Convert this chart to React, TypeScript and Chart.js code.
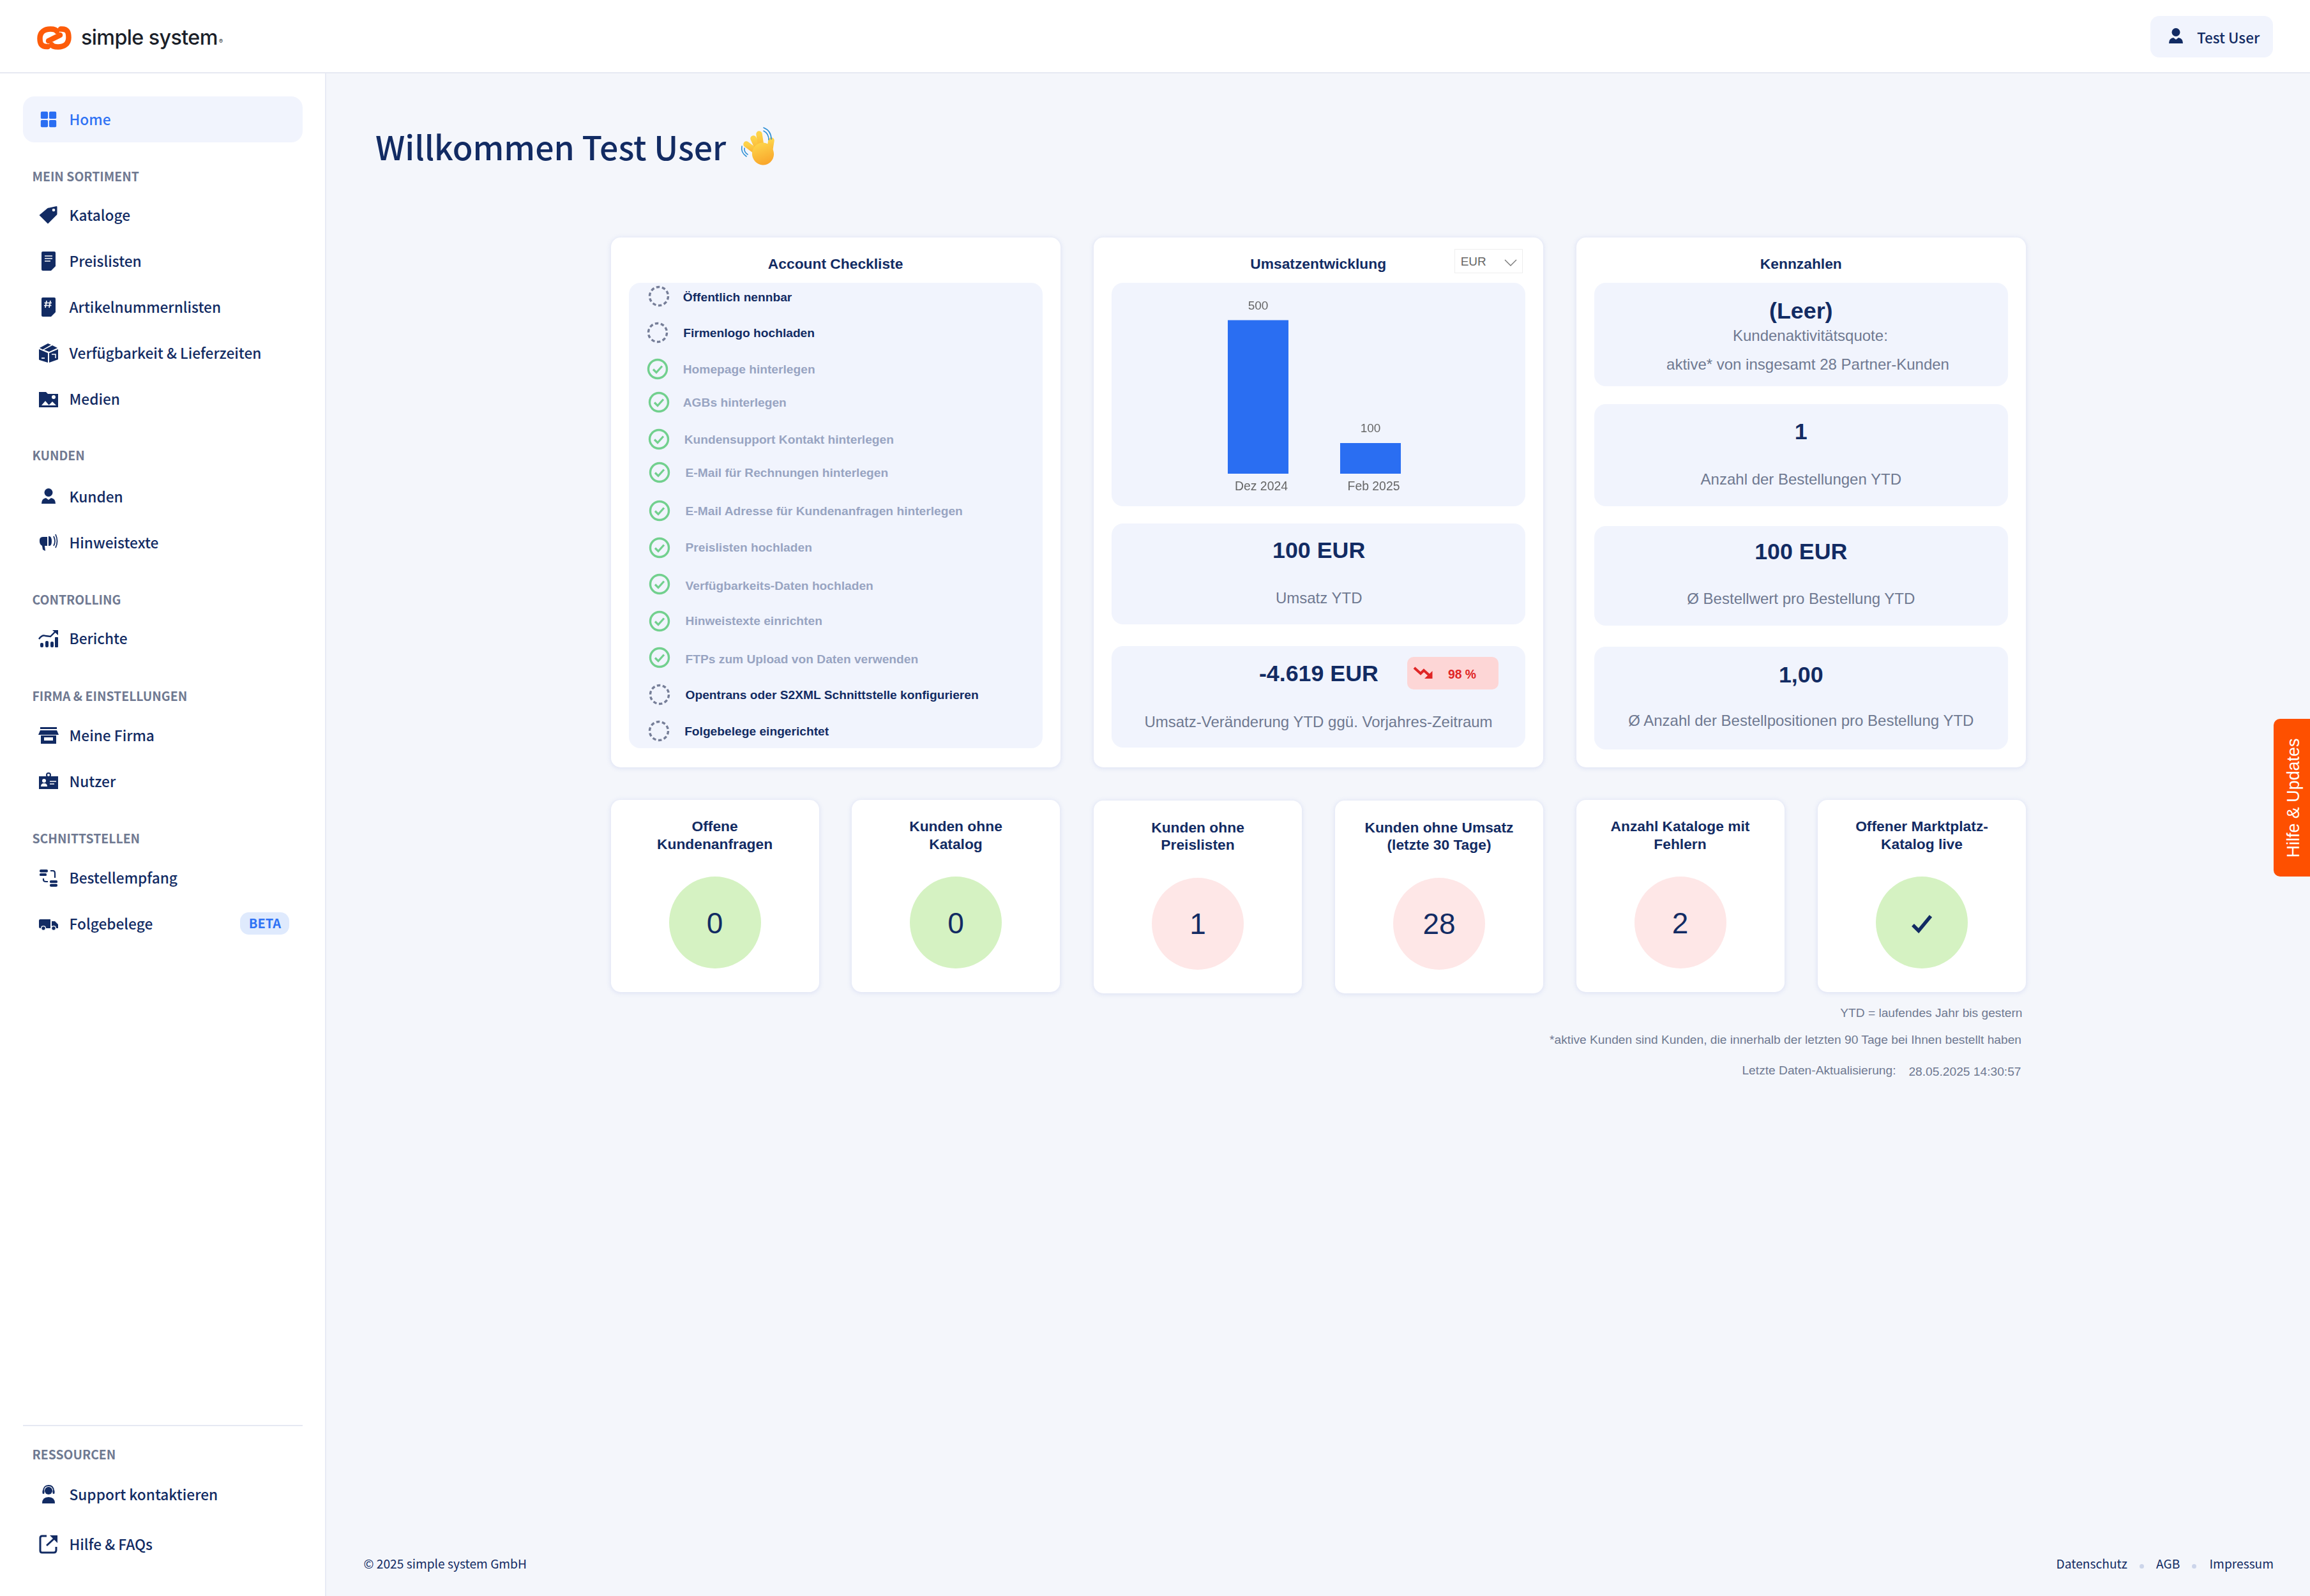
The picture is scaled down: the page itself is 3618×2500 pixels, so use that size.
import React, { useEffect, useRef } from "react";
import { Chart, registerables } from "chart.js";

Chart.register(...registerables);

// ---------- data ----------
const months = ["Dez 2024", "Feb 2025"];
const revenue = [500, 100];
const checklistLabels = [
  "Öffentlich nennbar", "Firmenlogo hochladen", "Homepage hinterlegen", "AGBs hinterlegen",
  "Kundensupport Kontakt hinterlegen", "E-Mail für Rechnungen hinterlegen",
  "E-Mail Adresse für Kundenanfragen hinterlegen", "Preislisten hochladen",
  "Verfügbarkeits-Daten hochladen", "Hinweistexte einrichten", "FTPs zum Upload von Daten verwenden",
  "Opentrans oder S2XML Schnittstelle konfigurieren", "Folgebelege eingerichtet",
];
const checklistDone = [false, false, true, true, true, true, true, true, true, true, true, false, false];
const tileTitles = [
  ["Offene", "Kundenanfragen"], ["Kunden ohne", "Katalog"], ["Kunden ohne", "Preislisten"],
  ["Kunden ohne Umsatz", "(letzte 30 Tage)"], ["Anzahl Kataloge mit", "Fehlern"], ["Offener Marktplatz-", "Katalog live"],
];
const tileValues = ["0", "0", "1", "28", "2", ""];
const tileOk = [true, true, false, false, false, true];
const kpiValues = ["(Leer)", "1", "100 EUR", "1,00"];
const kpiLabels = ["Anzahl der Bestellungen YTD", "Ø Bestellwert pro Bestellung YTD", "Ø Anzahl der Bestellpositionen pro Bestellung YTD"];

// ---------- layout ----------
const W = 3618, H = 2500;
const HAN = '"Noto Sans CJK SC", "Noto Sans", sans-serif';
const ARIAL = '"Liberation Sans", Arial, sans-serif';
const NAVY = "#122b63", GREY = "#6f7991", PANEL = "#f1f4fd", MUTED = "#98a4c2";
const zx = (z: number) => z / 2.119 + 940;
const zy = (z: number) => z / 1.823 + 360;
const checkIconX = [195, 191, 191, 195, 195, 198, 198, 198, 198, 198, 198, 198, 195];
const checkIconY = [190, 293, 398, 493, 598, 693, 802, 907, 1012, 1117, 1222, 1327, 1431];
const checkTextX = [275, 276, 275, 275, 279, 283, 283, 283, 283, 283, 283, 283, 280];
const checkTextY = [193, 295, 399, 494, 600, 695, 804, 908, 1017, 1117, 1227, 1329, 1433];
const tileBox = [
  [956.6, 1252.5], [1334, 1252.5], [1713, 1254], [2091, 1254], [2468.5, 1252.5], [2847, 1252.5],
];

type TP = { x: number; y: number; s: number; w?: number; c?: string; a?: "left" | "center" | "right"; f?: string; ls?: number; children: any };
const T = ({ x, y, s, w = 400, c = NAVY, a = "left", f = ARIAL, ls, children }: TP) => (
  <div style={{
    position: "absolute", left: a === "right" ? undefined : x, right: a === "right" ? W - x : undefined, top: y,
    transform: a === "center" ? "translate(-50%,-50%)" : "translateY(-50%)",
    fontSize: s, fontWeight: w, color: c, fontFamily: f, whiteSpace: "nowrap", lineHeight: 1, letterSpacing: ls,
  }}>{children}</div>
);
const Box = ({ x, y, r, b, bg = PANEL, rad = 18, shadow, border }: any) => (
  <div style={{ position: "absolute", left: x, top: y, width: r - x, height: b - y, background: bg, borderRadius: rad, boxShadow: shadow, border, boxSizing: "border-box" }} />
);
const Card = (p: any) => <Box {...p} bg="#fff" rad={15} shadow="0 1px 7px 1px rgba(110,130,210,0.16)" />;

const Ico = ({ cx, cy, d, size = 32, c = NAVY, children }: any) => (
  <svg width={size} height={size} viewBox="0 0 32 32" style={{ position: "absolute", left: cx - size / 2, top: cy - size / 2 }}>
    {d && <path d={d} fill={c} fillRule="evenodd" />}
    {children}
  </svg>
);

const icons: Record<string, any> = {
  home: <><rect x="3" y="3" width="12" height="12" rx="2" fill="#2a6ef2" /><rect x="17" y="3" width="12" height="12" rx="2" fill="#2a6ef2" /><rect x="3" y="17" width="12" height="12" rx="2" fill="#2a6ef2" /><rect x="17" y="17" width="12" height="12" rx="2" fill="#2a6ef2" /></>,
  tag: <><path d="M1.5 16 L14 5.5 Q15 4.5 17 4.5 L28.5 2 Q29.5 2 29.5 3 V14 Q29.5 15.5 28 16.5 L15 29.5 Z" fill={NAVY} /><circle cx="24" cy="8" r="2.3" fill="#fff" /></>,
  doc: <><path d="M7 1 H25 Q27 1 27 3 V24 L20 31 H7 Q5 31 5 29 V3 Q5 1 7 1Z" fill={NAVY} /><path d="M10 8H22M10 12H22M10 16H19" stroke="#fff" strokeWidth="1.6" /><path d="M21 31 L27 25 V31Z" fill="#fff" /></>,
  hash: <><path d="M7 1 H25 Q27 1 27 3 V24 L20 31 H7 Q5 31 5 29 V3 Q5 1 7 1Z" fill={NAVY} /><path d="M13 6 L11 17 M19 6 L17 17 M9.5 9.5H21 M9 13.5H20.5" stroke="#fff" strokeWidth="1.7" /><path d="M21 31 L27 25 V31Z" fill="#fff" /></>,
  box: <><path d="M1 10 L15 16 V31 L2 27 Q1 26.5 1 25.5Z M17 16 L31 10 V26 L17 31Z M2 8 L15 1 L20 3 L7 10.5Z M9 11 L22 4 L30 8 L17 14Z" fill={NAVY} /><path d="M5 24 H10" stroke="#fff" strokeWidth="1.7" /><path d="M21 18 H27 V24" stroke="#fff" strokeWidth="1.5" fill="none" /></>,
  image: <><path d="M1 5 H12 L15 8 H31 V29 H1Z" fill={NAVY} /><circle cx="24" cy="13" r="3" fill="#fff" /><path d="M5 26 L11 19 L17 26Z M16 26 L22 20 L28 26Z" fill="#fff" /></>,
  person: <><circle cx="16" cy="9.5" r="6.5" fill={NAVY} /><path d="M5 27 Q5 19 12 18 L16 21 L20 18 Q27 19 27 27Z" fill={NAVY} /></>,
  megaphone: <><path d="M2 12 Q2 7 8 7 H14 V21 H10 L11 29 L7 27 L6 21 Q2 19 2 14Z M16 6 Q21 5 21 14 Q21 22 16 21Z" fill={NAVY} /><path d="M24 6 Q28 14 24 21 M27 3 Q32 14 27 24" stroke={NAVY} strokeWidth="1.7" fill="none" /></>,
  chart: <><path d="M1 17 Q6 10 11 12 L19 13 L27 5" stroke={NAVY} strokeWidth="2.4" fill="none" /><path d="M22 3 H31 V11Z" fill={NAVY} /><rect x="3" y="23" width="5" height="7" rx="2" fill={NAVY} /><rect x="11" y="20" width="5" height="10" rx="2" fill={NAVY} /><rect x="19" y="21" width="5" height="9" rx="2" fill={NAVY} /><rect x="26" y="14" width="5" height="16" rx="1" fill={NAVY} /></>,
  store: <><rect x="3" y="3" width="26" height="3" fill={NAVY} /><path d="M3 8 H29 L32 15 H0Z" fill={NAVY} /><path d="M4 16 H28 V29 H4Z" fill={NAVY} /><rect x="9" y="19" width="14" height="5" fill="#fff" /></>,
  idcard: <><path d="M1 8 H31 V28 H1Z" fill={NAVY} /><circle cx="16" cy="6" r="3" fill="#fff" stroke={NAVY} strokeWidth="2" /><circle cx="9" cy="15" r="3" fill="#fff" /><path d="M4 24 Q4 19 9 19 Q14 19 14 24Z" fill="#fff" /><path d="M18 16 H28 M18 20 H25" stroke="#fff" strokeWidth="1.7" /></>,
  transfer: <><rect x="2" y="3" width="13" height="4.5" rx="2" fill={NAVY} /><rect x="2" y="9" width="11" height="4" rx="1.5" fill={NAVY} /><rect x="18" y="20" width="12" height="4" rx="1.5" fill={NAVY} /><rect x="18" y="25.5" width="12" height="4.5" rx="2" fill={NAVY} /><path d="M19 5 H23 Q26 5 26 9 V16 M8 17 V19 Q8 22 12 22 H15" stroke={NAVY} strokeWidth="2.2" fill="none" /></>,
  truck: <><path d="M1 11 Q1 9 3 9 H19 V23 H3 Q1 23 1 21Z M21 12 H26 L31 17 V23 H21Z" fill={NAVY} /><circle cx="8" cy="23" r="3.4" fill={NAVY} stroke="#fff" strokeWidth="1.3" /><circle cx="24" cy="23" r="3.4" fill={NAVY} stroke="#fff" strokeWidth="1.3" /></>,
  support: <><circle cx="16" cy="10" r="6" fill={NAVY} /><path d="M8 11 Q8 2 16 2 Q24 2 24 11" stroke={NAVY} strokeWidth="1.8" fill="none" /><rect x="6.5" y="9" width="3" height="6" rx="1.5" fill={NAVY} /><rect x="22.5" y="9" width="3" height="6" rx="1.5" fill={NAVY} /><path d="M6 30 Q6 20 16 20 Q26 20 26 30Z" fill={NAVY} /></>,
  external: <><path d="M13 3 H6 Q3 3 3 6 V26 Q3 29 6 29 H24 Q28 29 28 25 V20" stroke={NAVY} strokeWidth="3" fill="none" /><path d="M13 18 L26 6" stroke={NAVY} strokeWidth="3" /><path d="M18 2 H30 V14Z" fill={NAVY} /></>,
};

const navLabels: [string, number, string][] = [
  ["Kataloge", 337, "tag"], ["Preislisten", 408.5, "doc"], ["Artikelnummernlisten", 480.5, "hash"],
  ["Verfügbarkeit & Lieferzeiten", 552.5, "box"], ["Medien", 624.5, "image"], ["Kunden", 777.5, "person"],
  ["Hinweistexte", 849.5, "megaphone"], ["Berichte", 999.5, "chart"], ["Meine Firma", 1151.5, "store"],
  ["Nutzer", 1223.5, "idcard"], ["Bestellempfang", 1374.5, "transfer"], ["Folgebelege", 1446.5, "truck"],
  ["Support kontaktieren", 2340.5, "support"], ["Hilfe & FAQs", 2419, "external"],
];
const navSections: [string, number][] = [
  ["MEIN SORTIMENT", 276], ["KUNDEN", 713], ["CONTROLLING", 939], ["FIRMA & EINSTELLUNGEN", 1089.5], ["SCHNITTSTELLEN", 1313], ["RESSOURCEN", 2278],
];

const valueLabels = {
  id: "valueLabels",
  afterDatasetsDraw(chart: any) {
    const { ctx } = chart;
    ctx.save();
    ctx.font = `19px ${ARIAL}`;
    ctx.fillStyle = "#666";
    ctx.textAlign = "center";
    ctx.textBaseline = "middle";
    chart.getDatasetMeta(0).data.forEach((bar: any, i: number) => {
      ctx.fillText(String(chart.data.datasets[0].data[i]), bar.x, bar.y - 22);
    });
    ctx.restore();
  },
};

const RevenueChart = () => {
  const ref = useRef<HTMLCanvasElement>(null);
  useEffect(() => {
    const chart = new Chart(ref.current!, {
      type: "bar",
      data: { labels: months, datasets: [{ data: revenue, backgroundColor: "#2a6ef2", barPercentage: 0.9, categoryPercentage: 0.6 }] },
      options: {
        animation: false, responsive: false, devicePixelRatio: 1,
        layout: { padding: { left: 141.5, right: 154.5, top: 10.4, bottom: 9.7 } },
        plugins: { legend: { display: false }, tooltip: { enabled: false }, title: { display: false } },
        scales: {
          y: { display: false, min: 0, max: 600 },
          x: {
            grid: { display: false, drawTicks: false }, border: { display: false },
            ticks: { color: "#666", font: { size: 19.4, family: ARIAL }, padding: 9, labelOffset: 5, maxRotation: 0, autoSkip: false },
          },
        },
      },
      plugins: [valueLabels],
    } as any);
    return () => chart.destroy();
  }, []);
  return <canvas ref={ref} width={648} height={350} style={{ position: "absolute", left: 1741, top: 443, width: 648, height: 350 }} />;
};

const Check = ({ cx, cy, done }: any) => (
  <svg width={36} height={36} viewBox="0 0 36 36" style={{ position: "absolute", left: cx - 18, top: cy - 18 }}>
    {done ? (
      <>
        <circle cx="18" cy="18" r="14.5" fill="none" stroke="#72d08e" strokeWidth="3.4" />
        <path d="M11 18.5 L16 23.5 L25 13.5" fill="none" stroke="#72d08e" strokeWidth="3.2" />
      </>
    ) : (
      <circle cx="18" cy="18" r="14.5" fill="none" stroke="#767e98" strokeWidth="3.4" strokeDasharray="5.5 3.6" />
    )}
  </svg>
);

export default function App() {
  const kpiBoxes = [[443, 604.6], [632.6, 793], [823.5, 980.4], [1013, 1173.5]];
  const kpiValueY = [488, 677, 865, 1058];
  const kpiLabelY = [750.6, 937.6, 1129];
  return (
    <div style={{ position: "absolute", left: 0, top: 0, width: W, height: H, overflow: "hidden", background: "#f4f6fb" }}>
      {/* header */}
      <div style={{ position: "absolute", left: 0, top: 0, width: W, height: 115, background: "#fff", borderBottom: "2px solid #e6e9f2", boxSizing: "border-box" }} />
      <svg width={60} height={44} viewBox="55 37 60 44" style={{ position: "absolute", left: 55, top: 37 }}>
        <g fill="none" stroke="#fd5c0a" strokeWidth="8.5" strokeLinecap="round">
          <path d="M75 73 C64 74 62.5 67 62.5 60 C62.5 50 70 45.5 79 45.5 C85 45.5 88 47 89 49" />
          <path d="M95 45.5 C106 44.5 107.5 51 107.5 59 C107.5 69 100 73.5 91 73.5 C85 73.5 82 72 81 70" />
          <path d="M76 64 L94 55" />
        </g>
      </svg>
      <T x={127} y={58.5} s={32.3} w={500} c="#1b1f29" f="Inter, sans-serif" ls={-0.6}>simple system</T>
      <T x={343} y={64} s={9} c="#1b1f29" f="Inter, sans-serif">®</T>
      <Box x={3368} y={25} r={3560} b={90} rad={14} />
      <Ico cx={3408} cy={56.5} size={32}>{icons.person}</Ico>
      <T x={3441} y={57.5} s={22.5} w={500} f={HAN}>Test User</T>

      {/* sidebar */}
      <div style={{ position: "absolute", left: 0, top: 115, width: 511, height: H - 115, background: "#fff", borderRight: "2px solid #e8ebf5", boxSizing: "border-box" }} />
      <Box x={36} y={151} r={474} b={222.5} rad={18} />
      <Ico cx={76} cy={187} size={30}>{icons.home}</Ico>
      <T x={108.5} y={186.5} s={22.7} w={500} c="#2f72f4" f={HAN}>Home</T>
      {navSections.map(([t, y]) => <T key={t} x={50.5} y={y} s={19.4} w={700} c={GREY} f={HAN}>{t}</T>)}
      {navLabels.map(([t, y, ic]) => (
        <React.Fragment key={t}>
          <Ico cx={76} cy={y}>{icons[ic]}</Ico>
          <T x={108.5} y={y} s={22.7} w={500} f={HAN}>{t}</T>
        </React.Fragment>
      ))}
      <Box x={376} y={1429} r={452.5} b={1464} bg="#dfeafd" rad={14} />
      <T x={415} y={1446} s={20} w={700} c="#2f72f4" a="center" f={HAN}>BETA</T>
      <div style={{ position: "absolute", left: 36, top: 2232, width: 438, height: 1.5, background: "#e6e9f2" }} />

      {/* title */}
      <T x={588} y={229} s={51.8} w={500} f={HAN}>Willkommen Test User</T>
      <svg width={70} height={70} viewBox="1150 195 70 70" style={{ position: "absolute", left: 1150, top: 195 }}>
        <defs>
          <linearGradient id="hand" x1="0" y1="0" x2="0" y2="1"><stop offset="0" stopColor="#fdd34a" /><stop offset="1" stopColor="#f9a52a" /></linearGradient>
        </defs>
        <g stroke="url(#hand)" strokeWidth="9.5" strokeLinecap="round" fill="none">
          <path d="M1192 243 L1169 226" />
          <path d="M1192 243 L1180 217" />
          <path d="M1194 243 L1189 210" />
          <path d="M1198 243 L1198 213" />
          <path d="M1204 245 L1208 220" />
        </g>
        <ellipse cx="1195" cy="241" rx="17" ry="17.5" fill="url(#hand)" transform="rotate(-20 1195 241)" />
        <g stroke="#2d8fd5" strokeWidth="1.6" fill="none" strokeLinecap="round">
          <path d="M1196 205 Q1204 209 1204 219" />
          <path d="M1196 200 Q1208 205 1208 218" />
          <path d="M1162 229 Q1160 239 1169 245" />
          <path d="M1166 232 Q1165 238 1171 242" />
        </g>
      </svg>

      {/* checklist card */}
      <Card x={957} y={372} r={1661} b={1202} />
      <T x={1308.6} y={413} s={22.8} w={700} a="center">Account Checkliste</T>
      <Box x={985} y={443} r={1633} b={1172} />
      {checklistLabels.map((t, i) => (
        <React.Fragment key={t}>
          <Check cx={zx(checkIconX[i])} cy={zy(checkIconY[i])} done={checklistDone[i]} />
          <T x={zx(checkTextX[i])} y={zy(checkTextY[i])} s={19.2} w={700} c={checklistDone[i] ? MUTED : NAVY}>{t}</T>
        </React.Fragment>
      ))}

      {/* revenue card */}
      <Card x={1713} y={372} r={2417} b={1202} />
      <T x={2064.7} y={413} s={22.8} w={700} a="center">Umsatzentwicklung</T>
      <Box x={2277.5} y={389.5} r={2385} b={427.5} bg="#fff" rad={0} border="1.5px solid #eeeeee" />
      <T x={2287.7} y={409} s={19} c="#666">EUR</T>
      <svg width={24} height={14} viewBox="0 0 24 14" style={{ position: "absolute", left: 2354, top: 405 }}>
        <path d="M3 2 L12 11 L21 2" fill="none" stroke="#777" strokeWidth="1.4" />
      </svg>
      <Box x={1741} y={443} r={2389} b={793} />
      <RevenueChart />
      <Box x={1741} y={820} r={2389} b={978} />
      <T x={2065.7} y={863} s={35.8} w={700} a="center">100 EUR</T>
      <T x={2065.7} y={937} s={24} c={GREY} a="center">Umsatz YTD</T>
      <Box x={1741} y={1012} r={2389} b={1171} />
      <T x={2065.4} y={1055.5} s={35.8} w={700} a="center">-4.619 EUR</T>
      <Box x={2204} y={1029} r={2347} b={1080} bg="#fdd6d6" rad={10} />
      <svg width={36} height={26} viewBox="2211 1041 36 26" style={{ position: "absolute", left: 2211, top: 1041 }}>
        <path d="M2215 1046 L2225 1055 L2230 1050 L2241 1060" fill="none" stroke="#e02626" strokeWidth="4" />
        <path d="M2243.5 1051 V1063 H2231Z" fill="#e02626" />
      </svg>
      <T x={2290} y={1056.5} s={19.4} w={700} c="#e02626" a="center">98 %</T>
      <T x={2065} y={1130.5} s={24} c={GREY} a="center">Umsatz-Veränderung YTD ggü. Vorjahres-Zeitraum</T>

      {/* kpi card */}
      <Card x={2469} y={372} r={3173} b={1202} />
      <T x={2820.8} y={413} s={22.8} w={700} a="center">Kennzahlen</T>
      {kpiBoxes.map(([a, b]) => <Box key={a} x={2497} y={a} r={3144.6} b={b} />)}
      {kpiValues.map((t, i) => <T key={t} x={2820.8} y={kpiValueY[i]} s={35.8} w={700} a="center">{t}</T>)}
      <T x={2835.4} y={526} s={24} c={GREY} a="center">Kundenaktivitätsquote:</T>
      <T x={2831.5} y={571} s={24} c={GREY} a="center">aktive* von insgesamt 28 Partner-Kunden</T>
      {kpiLabels.map((t, i) => <T key={t} x={2820.8} y={kpiLabelY[i]} s={24} c={GREY} a="center">{t}</T>)}

      {/* tiles */}
      {tileTitles.map((tt, i) => {
        const [x, y] = tileBox[i];
        const cx = x + 163;
        return (
          <React.Fragment key={i}>
            <Card x={x} y={y} r={x + 326.4} b={y + 301.5} />
            <T x={cx} y={y + 41.5} s={22.8} w={700} a="center">{tt[0]}</T>
            <T x={cx} y={y + 69} s={22.8} w={700} a="center">{tt[1]}</T>
            <div style={{ position: "absolute", left: cx - 72, top: y + 120.5, width: 144, height: 144, borderRadius: "50%", background: tileOk[i] ? "#d5f2c2" : "#fee7e7" }} />
            {tileValues[i] ? <T x={cx} y={y + 193} s={46} a="center">{tileValues[i]}</T> : (
              <svg width={44} height={36} viewBox="0 0 44 36" style={{ position: "absolute", left: cx - 22, top: y + 176 }}>
                <path d="M8 20 L17 29 L36 6" fill="none" stroke={NAVY} strokeWidth="5.5" />
              </svg>
            )}
          </React.Fragment>
        );
      })}

      {/* notes */}
      <T x={3167.5} y={1587} s={19.2} c={GREY} a="right">YTD = laufendes Jahr bis gestern</T>
      <T x={3166} y={1629} s={19.2} c={GREY} a="right">*aktive Kunden sind Kunden, die innerhalb der letzten 90 Tage bei Ihnen bestellt haben</T>
      <T x={2969.5} y={1677} s={19.2} c={GREY} a="right">Letzte Daten-Aktualisierung:</T>
      <T x={3165.5} y={1679} s={19.2} c={GREY} a="right">28.05.2025 14:30:57</T>

      {/* help tab */}
      <div style={{ position: "absolute", left: 3561, top: 1126, width: 57, height: 247, background: "#fe5000", borderRadius: "10px 0 0 10px" }} />
      <div style={{
        position: "absolute", left: 3591.5, top: 1249.5, transform: "translate(-50%,-50%) rotate(-90deg)",
        fontFamily: ARIAL, fontSize: 26.9, color: "#fff", whiteSpace: "nowrap", lineHeight: 1,
      }}>Hilfe &amp; Updates</div>

      {/* footer */}
      <T x={569.5} y={2450} s={19.2} f={HAN}>© 2025 simple system GmbH</T>
      <T x={3220.5} y={2450} s={19.2} f={HAN}>Datenschutz</T>
      <T x={3377} y={2450} s={19.2} f={HAN}>AGB</T>
      <T x={3460.5} y={2450} s={19.2} f={HAN}>Impressum</T>
      <div style={{ position: "absolute", left: 3351, top: 2450, width: 7, height: 7, borderRadius: "50%", background: "#ccd5ea" }} />
      <div style={{ position: "absolute", left: 3433, top: 2450, width: 7, height: 7, borderRadius: "50%", background: "#ccd5ea" }} />
    </div>
  );
}
